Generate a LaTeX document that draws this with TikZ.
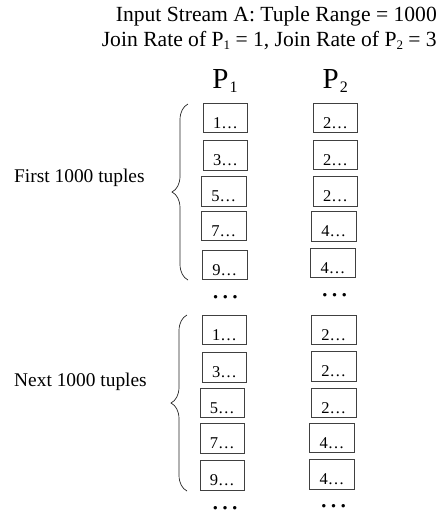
\documentclass[tikz,border=0pt]{standalone}
\usepackage{fontspec}
\setmainfont{Liberation Serif}
\usetikzlibrary{decorations.pathreplacing}
\newcommand\dsub[3]{\raisebox{-#1pt}{\fontsize{#2}{#2}\selectfont #3}}
\begin{document}
\begin{tikzpicture}[x=1pt,y=-1pt,
  tbox/.style={draw=black!75,line width=0.8pt,minimum width=44.4pt,inner xsep=0pt,inner ysep=0pt,
    text height=25pt,text depth=4.4pt,font=\fontsize{16.5}{18}\selectfont},
  tdots/.style={inner sep=0pt,anchor=base,text height=3pt,text depth=0pt,font=\fontsize{29}{30}\selectfont},
  title/.style={inner sep=0pt,anchor=base east,font=\fontsize{21.6}{24}\selectfont},
  plabel/.style={inner sep=0pt,anchor=base west,font=\fontsize{29}{30}\selectfont},
  glabel/.style={inner sep=0pt,anchor=base west,font=\fontsize{19.4}{22}\selectfont},
  gbrace/.style={draw=black!85,line width=0.7pt,decorate,decoration={brace,amplitude=16pt}}
]
\useasboundingbox (0,0) rectangle (441,512);
% titles
\node[title] (t1) at (437,21.7) {Input Stream A: Tuple Range = 1000};
\node[title] (t2) at (437,46.7) {Join Rate of P\dsub{3}{13}{1} = 1, Join Rate of P\dsub{3}{13}{2} = 3};
% column labels
\node[plabel] (p1) at (212.2,88.3) {P\kern1pt\dsub{4.4}{16}{1}};
\node[plabel] (p2) at (322.5,88.3) {P\kern1pt\dsub{4.4}{16}{2}};
% group 1, P1
\node[tbox] (a1) at (225.5,118) {1…};
\node[tbox] (a2) at (225.5,155.5) {3…};
\node[tbox] (a3) at (223.8,191.3) {5…};
\node[tbox] (a4) at (223.8,225.8) {7…};
\node[tbox] (a5) at (224.7,265) {9…};
% group 1, P2
\node[tbox] (b1) at (335.5,117.8) {2…};
\node[tbox] (b2) at (335.5,154.7) {2…};
\node[tbox] (b3) at (335.5,191.3) {2…};
\node[tbox] (b4) at (333.8,226.3) {4…};
\node[tbox] (b5) at (333,263) {4…};
% dots
\node[tdots] (da) at (225.3,298.3) {…};
\node[tdots] (db) at (334.5,296.5) {…};
% group 2, P1
\node[tbox] (c1) at (224.5,330) {1…};
\node[tbox] (c2) at (224.5,367.5) {3…};
\node[tbox] (c3) at (222.2,402.8) {5…};
\node[tbox] (c4) at (222.2,438.2) {7…};
\node[tbox] (c5) at (222.2,475.5) {9…};
% group 2, P2
\node[tbox] (d1) at (333.7,329.7) {2…};
\node[tbox] (d2) at (333.7,366.3) {2…};
\node[tbox] (d3) at (333.7,402.8) {2…};
\node[tbox] (d4) at (332,438) {4…};
\node[tbox] (d5) at (332,474.3) {4…};
% dots
\node[tdots] (dc) at (225,509) {…};
\node[tdots] (dd) at (333.7,507.5) {…};
% group labels
\node[glabel] (g1) at (14,182.7) {First 1000 tuples};
\node[glabel] (g2) at (14,386.7) {Next 1000 tuples};
% braces
\coordinate (br1b) at (188,280);
\coordinate (br1t) at (188,104);
\coordinate (br2b) at (187,491);
\coordinate (br2t) at (187,315);
\draw[gbrace] (br1b) -- (br1t);
\draw[gbrace] (br2b) -- (br2t);
\end{tikzpicture}
\end{document}
